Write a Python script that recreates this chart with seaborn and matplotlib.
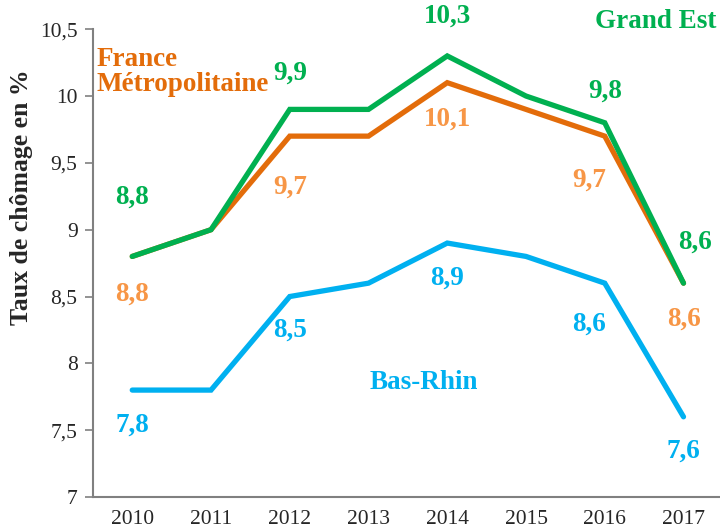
import pandas as pd
import matplotlib.pyplot as plt
import seaborn as sns

# Data
years = [2010, 2011, 2012, 2013, 2014, 2015, 2016, 2017]
grand_est = [8.8, 9.0, 9.9, 9.9, 10.3, 10.0, 9.8, 8.6]
france = [8.8, 9.0, 9.7, 9.7, 10.1, 9.9, 9.7, 8.6]
bas_rhin = [7.8, 7.8, 8.5, 8.6, 8.9, 8.8, 8.6, 7.6]

# Which points get a value label
green_idx = [0, 2, 4, 6, 7]
orange_idx = [0, 2, 4, 6, 7]
blue_idx = [0, 2, 4, 6, 7]

sns.set_style("white")
plt.rcParams['font.family'] = ['Liberation Serif', 'DejaVu Serif']

c_green = '#00B050'
c_orange = '#E36C0A'
c_orange_lbl = '#F79646'
c_blue = '#00B0F0'

df = pd.DataFrame({
    'year': years * 3,
    'taux': grand_est + france + bas_rhin,
    'zone': ['Grand Est'] * 8 + ['France Métropolitaine'] * 8 + ['Bas-Rhin'] * 8,
})

fig = plt.figure(figsize=(7.2, 5.31), dpi=100)
ax = fig.add_axes([0.129, 0.064, 0.875, 0.881])

sns.lineplot(data=df, x='year', y='taux', hue='zone',
             palette={'Grand Est': c_green, 'France Métropolitaine': c_orange,
                      'Bas-Rhin': c_blue},
             hue_order=['Bas-Rhin', 'France Métropolitaine', 'Grand Est'],
             linewidth=3.8, legend=False, ax=ax)
for line in ax.lines:
    line.set_solid_joinstyle('miter')
    line.set_solid_capstyle('round')

yt = [7 + 0.5 * i for i in range(8)]
ax.set_xlim(2009.5, 2017.5)
ax.set_ylim(7, 10.5)
ax.set_yticks(yt)
ax.set_yticklabels([f'{v:g}'.replace('.', ',') for v in yt], fontsize=15.5)
ax.set_xticks(years)
ax.set_xticklabels([str(y) for y in years], fontsize=15.5)
ax.set_xticks([y - 0.5 for y in years] + [2017.5], minor=True)
ax.tick_params(axis='x', which='major', length=0, pad=9)
ax.tick_params(axis='x', which='minor', length=5, color='#808080', width=1.2)
ax.tick_params(axis='y', length=6, color='#808080', width=1.2, pad=5, left=True)
ax.set_xlabel('')
ax.set_ylabel('Taux de chômage en %', fontsize=18.5, fontweight='bold')
ax.yaxis.set_label_coords(-0.095, 0.64)

for side in ['top', 'right']:
    ax.spines[side].set_visible(False)
for side in ['left', 'bottom']:
    ax.spines[side].set_color('#808080')
    ax.spines[side].set_linewidth(1.5)

def fmt(v):
    return f'{v:.1f}'.replace('.', ',')

# value labels (dx, dy offsets in data units)
green_off = [(0, 0.44), (0, 0.27), (0, 0.30), (0, 0.24), (0.15, 0.31)]
orange_off = [(0, -0.28), (0, -0.38), (0, -0.27), (-0.2, -0.33), (0, -0.27)]
blue_off = [(0, -0.26), (0, -0.25), (0, -0.26), (-0.2, -0.31), (0, -0.26)]

for vals, idx, offs, col in [(grand_est, green_idx, green_off, c_green),
                             (france, orange_idx, orange_off, c_orange_lbl),
                             (bas_rhin, blue_idx, blue_off, c_blue)]:
    for i, (dx, dy) in zip(idx, offs):
        ax.text(years[i] + dx, vals[i] + dy, fmt(vals[i]), color=col,
                fontsize=19.5, fontweight='bold', ha='center', va='center',
                clip_on=False)

# series names
ax.text(2009.55, 10.18, 'France\nMétropolitaine', color=c_orange, fontsize=19.5,
        fontweight='bold', ha='left', va='center', linespacing=1.0)
ax.text(2016.65, 10.56, 'Grand Est', color=c_green, fontsize=19.5,
        fontweight='bold', ha='center', va='center', clip_on=False)
ax.text(2013.7, 7.86, 'Bas-Rhin', color=c_blue, fontsize=19.5,
        fontweight='bold', ha='center', va='center')

plt.savefig('out.png', dpi=100)
